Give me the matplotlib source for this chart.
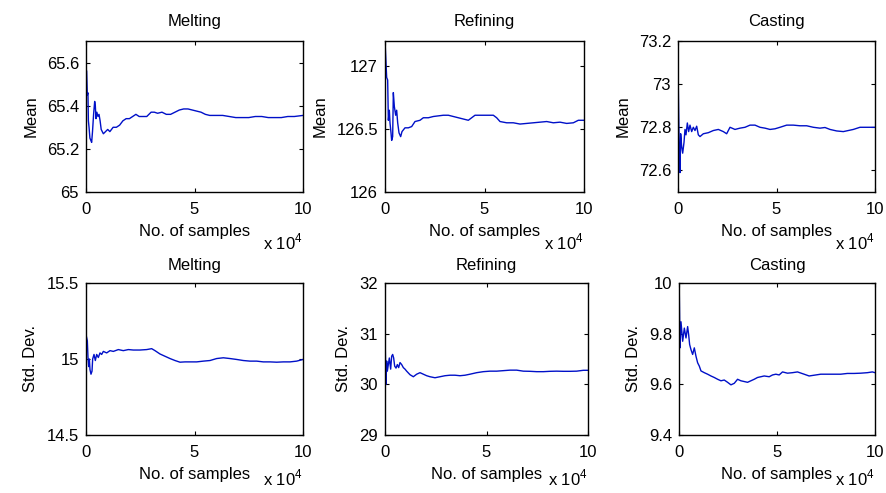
import matplotlib

matplotlib.use("Agg")

import matplotlib.pyplot as plt


# running estimates (x = number of samples)
melting_mean_n = [0, 300, 600, 900, 1100, 1400, 1800, 2200, 2600, 3000, 3500, 4000, 4300, 4600,
                  5000, 5500, 6000, 6500, 7000, 8000, 9000, 10000, 11000, 12500, 14000, 15500,
                  17000, 18500, 20000, 21500, 23000, 24500, 26000, 28000, 30000, 31500, 33000,
                  35000, 37000, 39000, 41000, 43000, 45000, 47000, 49000, 51000, 53000, 55000,
                  57000, 60000, 63000, 66000, 69000, 72000, 75000, 78000, 81000, 84000, 87000,
                  90000, 93000, 96000, 100000]
melting_mean = [65.57, 65.56, 65.45, 65.46, 65.33, 65.30, 65.25, 65.24, 65.23, 65.28, 65.36,
                65.42, 65.40, 65.34, 65.37, 65.35, 65.36, 65.33, 65.29, 65.27, 65.28, 65.29,
                65.28, 65.30, 65.30, 65.31, 65.33, 65.34, 65.34, 65.35, 65.36, 65.35, 65.35,
                65.35, 65.37, 65.37, 65.365, 65.37, 65.36, 65.36, 65.37, 65.38, 65.385, 65.385,
                65.38, 65.375, 65.37, 65.36, 65.355, 65.355, 65.355, 65.35, 65.345, 65.345,
                65.345, 65.35, 65.35, 65.345, 65.345, 65.345, 65.35, 65.35, 65.355]

refining_mean_n = [0, 840, 1340, 1680, 2180, 2510, 3020, 3350, 3850, 4190, 4690, 5360, 5860,
                   6370, 7040, 7870, 8540, 10050, 11730, 13400, 15080, 17590, 19260, 21780,
                   24290, 26800, 29310, 31830, 34340, 36850, 39360, 41880, 43550, 45230, 47740,
                   51090, 54440, 56110, 57790, 61140, 64490, 67840, 71190, 74540, 77890, 81240,
                   84590, 87940, 91290, 94640, 97150, 100000]
refining_mean = [127.2, 126.91, 126.89, 126.57, 126.65, 126.55, 126.47, 126.41, 126.44, 126.79,
                 126.68, 126.61, 126.65, 126.55, 126.47, 126.44, 126.48, 126.51, 126.51, 126.52,
                 126.56, 126.57, 126.59, 126.59, 126.60, 126.605, 126.61, 126.61, 126.60,
                 126.59, 126.58, 126.57, 126.59, 126.61, 126.61, 126.61, 126.61, 126.59, 126.56,
                 126.55, 126.55, 126.54, 126.545, 126.55, 126.555, 126.56, 126.55, 126.555,
                 126.545, 126.55, 126.57, 126.57]

casting_mean_n = [0, 680, 1020, 1350, 1860, 2370, 3050, 3550, 4060, 4740, 5410, 6090, 6940,
                  7780, 8630, 9480, 10320, 11170, 12860, 15400, 17940, 20470, 23010, 24700,
                  26400, 28930, 31470, 34010, 36550, 39090, 41620, 44160, 46700, 49240, 51780,
                  55160, 58540, 61930, 65310, 68700, 72080, 74620, 77160, 80540, 83920, 86460,
                  89000, 92380, 95770, 98300, 100000]
casting_mean = [73.08, 72.66, 72.59, 72.77, 72.71, 72.68, 72.73, 72.79, 72.765, 72.82, 72.78,
                72.81, 72.78, 72.80, 72.785, 72.805, 72.765, 72.757, 72.77, 72.775, 72.785,
                72.79, 72.78, 72.77, 72.80, 72.79, 72.796, 72.80, 72.81, 72.81, 72.80, 72.796,
                72.79, 72.793, 72.80, 72.81, 72.81, 72.807, 72.807, 72.80, 72.796, 72.799,
                72.79, 72.783, 72.78, 72.785, 72.79, 72.80, 72.80, 72.80, 72.80]

melting_std_n = [0, 610, 920, 1230, 1540, 1840, 2300, 2770, 3070, 3690, 4300, 4920, 5680, 6450,
                 7220, 7990, 9520, 11060, 12600, 14900, 17200, 19510, 21810, 24880, 27960, 30260,
                 31800, 34100, 36400, 38710, 41010, 43320, 45620, 47920, 51000, 54070, 57140,
                 60210, 63290, 66360, 69430, 72500, 75580, 78650, 81720, 84790, 87860, 90940,
                 94010, 97080, 100000]
melting_std = [15.16, 15.12, 15.01, 14.95, 15.00, 14.93, 14.90, 14.92, 15.00, 15.03, 14.99,
               15.03, 15.01, 15.04, 15.03, 15.05, 15.04, 15.055, 15.05, 15.062, 15.055, 15.062,
               15.059, 15.059, 15.062, 15.068, 15.055, 15.033, 15.018, 15.003, 14.99, 14.979,
               14.981, 14.981, 14.981, 14.986, 14.99, 15.003, 15.008, 15.003, 14.997, 14.99,
               14.986, 14.986, 14.981, 14.981, 14.979, 14.981, 14.981, 14.986, 14.997]

refining_std_n = [0, 490, 820, 1150, 1640, 2130, 2790, 3280, 3780, 4270, 4760, 5420, 6080, 6730,
                  7390, 8210, 9030, 9850, 10670, 12320, 13960, 15600, 17240, 18880, 20530, 22170,
                  24630, 27090, 29560, 32020, 34480, 36950, 39410, 41870, 45160, 48440, 51720,
                  55010, 58290, 61580, 64860, 68140, 71430, 74710, 78000, 81280, 84560, 87850,
                  91130, 94420, 97700, 100000]
refining_std = [30.98, 30.00, 30.46, 30.26, 30.39, 30.52, 30.30, 30.555, 30.59, 30.52, 30.36,
                30.32, 30.39, 30.33, 30.43, 30.39, 30.33, 30.30, 30.26, 30.19, 30.15, 30.20,
                30.23, 30.20, 30.17, 30.15, 30.13, 30.15, 30.17, 30.18, 30.18, 30.17, 30.18,
                30.20, 30.23, 30.25, 30.26, 30.26, 30.27, 30.28, 30.28, 30.26, 30.257, 30.25,
                30.25, 30.257, 30.26, 30.257, 30.257, 30.26, 30.277, 30.277]

casting_std_n = [0, 510, 1020, 1870, 2720, 3570, 4410, 4920, 5430, 6110, 6960, 7810, 8660, 9510,
                 10360, 11210, 12900, 14600, 16300, 18000, 19700, 21400, 23090, 24790, 26490,
                 28190, 29880, 31580, 33280, 34980, 36680, 38370, 40070, 41770, 43470, 46020,
                 47710, 49410, 51110, 52810, 55350, 57900, 60450, 63840, 66390, 68940, 72330,
                 75730, 79130, 82520, 85920, 89310, 92710, 96110, 98650, 100000]
casting_std = [10.05, 9.744, 9.847, 9.77, 9.822, 9.783, 9.828, 9.796, 9.757, 9.737, 9.718,
               9.744, 9.711, 9.685, 9.672, 9.653, 9.646, 9.64, 9.633, 9.627, 9.62, 9.614,
               9.617, 9.608, 9.598, 9.604, 9.62, 9.614, 9.611, 9.608, 9.614, 9.62, 9.627,
               9.63, 9.633, 9.63, 9.637, 9.64, 9.637, 9.649, 9.644, 9.646, 9.649, 9.64, 9.633,
               9.636, 9.64, 9.64, 9.64, 9.64, 9.643, 9.643, 9.644, 9.646, 9.649, 9.646]

stages = ["Melting", "Refining", "Casting"]
mean_limits = [(65.0, 65.7), (126.0, 127.2), (72.5, 73.2)]
mean_ticks = [[65, 65.2, 65.4, 65.6], [126, 126.5, 127], [72.6, 72.8, 73, 73.2]]
mean_ticklabels = [["65", "65.2", "65.4", "65.6"], ["126", "126.5", "127"],
                   ["72.6", "72.8", "73", "73.2"]]
std_limits = [(14.5, 15.5), (29.0, 32.0), (9.4, 10.0)]
std_ticks = [[14.5, 15, 15.5], [29, 30, 31, 32], [9.4, 9.6, 9.8, 10]]
std_ticklabels = [["14.5", "15", "15.5"], ["29", "30", "31", "32"], ["9.4", "9.6", "9.8", "10"]]
sample_ticks = [0, 50000, 100000]
sample_ticklabels = ["0", "5", "10"]

# axes boxes in pixels (left, top, right, bottom) on an 886 x 493 canvas
TOP_BOXES = [(86, 41, 303, 192), (385, 41, 584, 192), (678, 41, 875, 192)]
BOTTOM_BOXES = [(86, 283, 303, 435), (385, 283, 588, 435), (679, 283, 875, 435)]
W, H = 886, 493
LINE_COLOR = "#0010c8"

plt.rcParams["font.family"] = ["Liberation Sans", "DejaVu Sans"]
plt.rcParams["mathtext.fontset"] = "custom"
plt.rcParams["mathtext.rm"] = "Liberation Sans"
plt.rcParams["font.size"] = 12


def add_panel(fig, box, n, values, title, ylabel, ylim, yticks, yticklabels,
              title_pad, offset_y):
    left, top, right, bottom = box
    ax = fig.add_axes([left / W, 1 - bottom / H, (right - left) / W, (bottom - top) / H])
    ax.plot(n, values, color=LINE_COLOR, linewidth=1.0)
    ax.set_xlim(0, 100000)
    ax.set_ylim(*ylim)
    ax.set_xticks(sample_ticks)
    ax.set_xticklabels(sample_ticklabels)
    ax.set_yticks(yticks)
    ax.set_yticklabels(yticklabels)
    ax.tick_params(direction="in", top=True, right=True, length=3, width=0.8, labelsize=12)
    ax.tick_params(axis="x", pad=7)
    ax.tick_params(axis="y", pad=5)
    for spine in ax.spines.values():
        spine.set_linewidth(1.0)
    ax.set_title(title, fontsize=12, pad=title_pad)
    ax.set_xlabel("No. of samples", fontsize=12, labelpad=5)
    ax.set_ylabel(ylabel, fontsize=12, labelpad=6)
    ax.text(1.0, offset_y, r"x 10$^4$", transform=ax.transAxes, ha="right", va="center",
            fontsize=12)
    return ax


def main() -> None:
    fig = plt.figure(figsize=(W / 100, H / 100), dpi=100)

    mean_series = [(melting_mean_n, melting_mean), (refining_mean_n, refining_mean),
                   (casting_mean_n, casting_mean)]
    std_series = [(melting_std_n, melting_std), (refining_std_n, refining_std),
                  (casting_std_n, casting_std)]

    for i, stage in enumerate(stages):
        n, values = mean_series[i]
        add_panel(fig, TOP_BOXES[i], n, values, stage, "Mean", mean_limits[i],
                  mean_ticks[i], mean_ticklabels[i], 10.5, -0.33)
        n, values = std_series[i]
        add_panel(fig, BOTTOM_BOXES[i], n, values, stage, "Std. Dev.", std_limits[i],
                  std_ticks[i], std_ticklabels[i], 9.5, -0.285)

    fig.savefig("out.png", dpi=100)
    plt.close(fig)


if __name__ == "__main__":
    main()
